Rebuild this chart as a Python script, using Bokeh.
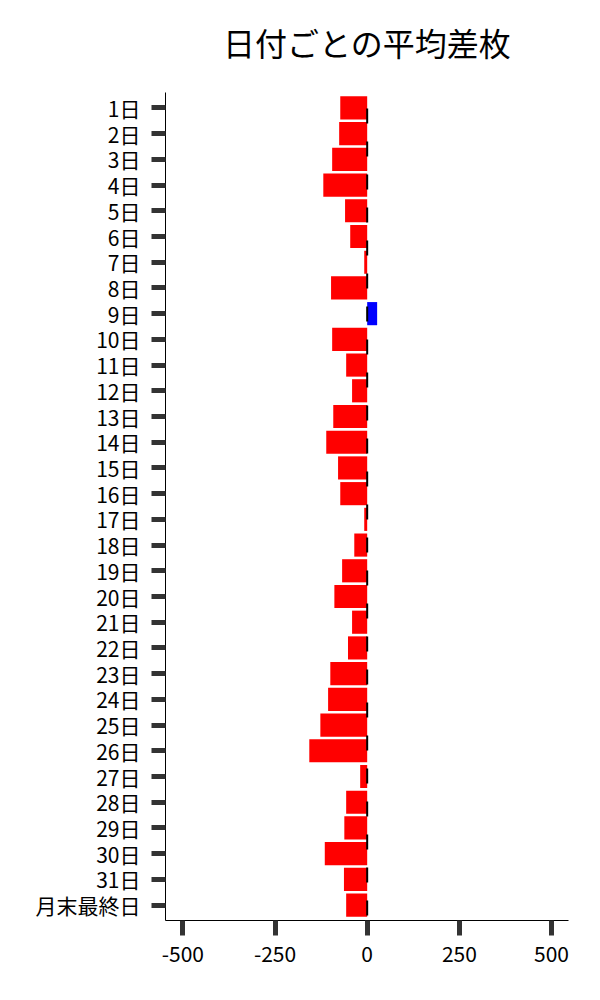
from bokeh.plotting import figure
from bokeh.models import FactorRange, Range1d, Span, FixedTicker, Title
from bokeh.embed import file_html
from bokeh.resources import INLINE

days = [f"{i}日" for i in range(1, 32)] + ["月末最終日"]
values = [-73, -76, -95, -119, -60, -46, -8, -98, 27, -95,
          -57, -41, -92, -111, -79, -73, -8, -35, -68, -89,
          -41, -52, -100, -106, -127, -157, -19, -57, -62, -115,
          -63, -57]
x_ticks = [-500, -250, 0, 250, 500]
x_tick_labels = ["-500", "-250", "0", "250", "500"]
colors = ["#0000ff" if v > 0 else "#ff0000" for v in values]
title_text = "日付ごとの平均差枚"

FONT = "Noto Sans CJK JP"

p = figure(width=584, height=984,
           y_range=FactorRange(factors=list(reversed(days)), range_padding=0.1,
                               range_padding_units="absolute"),
           x_range=Range1d(-547, 546),
           output_backend="svg", toolbar_location=None,
           title=None)
p.min_border_left = 165
p.min_border_right = 16
p.min_border_top = 92
p.min_border_bottom = 64

p.hbar(y=days, right=values, height=0.9, color=colors, line_color=None)

zero = Span(location=0, dimension="height", line_color="black", line_width=2,
            line_dash="15 18", line_dash_offset=17)
p.add_layout(zero)

# spacer between title and plot area
p.add_layout(Title(text=" ", text_font=FONT, text_font_size="15px", standoff=0), "above")
p.add_layout(Title(text=title_text, text_font=FONT, text_font_size="32px",
                   text_font_style="normal", text_color="black",
                   align="center", standoff=10), "above")

p.outline_line_color = None
p.xgrid.visible = False
p.ygrid.visible = False

for ax in (p.xaxis, p.yaxis):
    ax.axis_line_color = "black"
    ax.axis_line_width = 1
    ax.major_tick_line_color = "#333333"
    ax.major_tick_line_width = 5
    ax.major_tick_in = 0
    ax.minor_tick_line_color = None
    ax.major_label_text_font = FONT
    ax.major_label_text_color = "black"
    ax.major_label_text_font_size = "21px"

p.yaxis.major_tick_out = 14
p.yaxis.major_label_standoff = 11
p.xaxis.major_tick_out = 15
p.xaxis.major_label_standoff = 10
p.xaxis.ticker = FixedTicker(ticks=x_ticks)
p.xaxis.major_label_overrides = dict(zip(x_ticks, x_tick_labels))

open("out.html", "w").write(file_html(p, INLINE))
